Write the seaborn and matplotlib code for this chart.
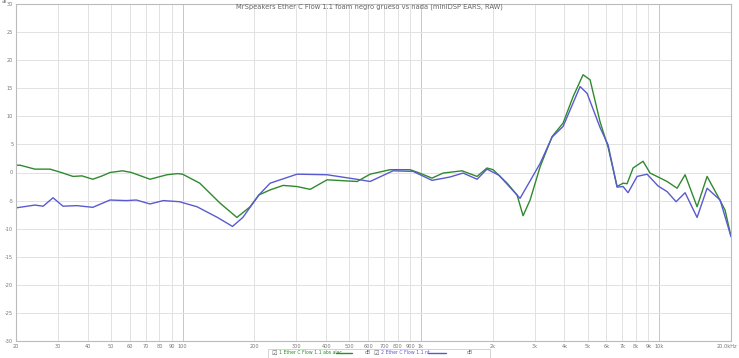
import numpy as np
import pandas as pd
import matplotlib
matplotlib.use("Agg")
import matplotlib.pyplot as plt
import matplotlib.transforms as mtransforms
import seaborn as sns
from matplotlib.lines import Line2D
from matplotlib.patches import Rectangle

title = "MrSpeakers Ether C Flow 1.1 foam negro grueso vs nada (miniDSP EARS, RAW)"
series_names = ["1 Ether C Flow 1.1 abs alac", "2 Ether C Flow 1.1 nt"]

green_freq = [20, 20.8, 24, 27.8, 31.5, 34.7, 37.8, 42, 46, 49.6, 56, 61, 73, 86, 95, 100,
              118, 144, 169, 192, 209, 233, 264, 302, 343, 404, 540, 612, 742, 900, 973,
              1113, 1239, 1488, 1720, 1893, 2008, 2299, 2532, 2683, 2871, 3162, 3551, 3949,
              4350, 4790, 5126, 5646, 6101, 6653, 7050, 7328, 7766, 8553, 9152, 9887, 10785,
              11881, 12836, 14412, 15876, 17652, 18890, 20000]
green_db = [1.3, 1.3, 0.6, 0.6, -0.1, -0.7, -0.6, -1.2, -0.6, 0.0, 0.3, 0.0, -1.2, -0.4, -0.2, -0.3,
            -1.9, -5.5, -8.0, -6.1, -4.0, -3.1, -2.3, -2.5, -3.0, -1.3, -1.6, -0.3, 0.5, 0.5, 0.0,
            -1.0, -0.1, 0.3, -0.7, 0.8, 0.5, -1.9, -4.0, -7.7, -4.9, 1.0, 6.4, 8.8,
            13.5, 17.4, 16.5, 9.0, 4.5, -2.5, -1.9, -2.0, 0.8, 2.0, -0.1, -0.8, -1.6,
            -2.8, -0.4, -6.1, -0.7, -4.3, -6.7, -11.4]

blue_freq = [20, 24, 26, 28.6, 31.5, 36, 42, 49.6, 58, 64, 73, 83, 97, 115, 140, 162, 179,
             209, 233, 302, 404, 556, 612, 764, 927, 1113, 1325, 1502, 1720, 1893, 2127,
             2606, 3162, 3551, 3949, 4654, 4979, 5646, 6101, 6653, 7050, 7399, 8073, 8891,
             9887, 10785, 11767, 12836, 14412, 15876, 18000, 20000]
blue_db = [-6.3, -5.8, -6.0, -4.5, -6.0, -5.9, -6.2, -4.9, -5.0, -4.9, -5.6, -5.0, -5.2, -6.1, -8.0, -9.6, -8.0,
           -4.0, -1.9, -0.3, -0.4, -1.3, -1.6, 0.3, 0.2, -1.4, -0.8, -0.1, -1.2, 0.6, -0.5,
           -4.6, 1.6, 6.3, 8.2, 15.3, 14.1, 8.0, 4.9, -2.6, -2.5, -3.6, -0.7, -0.3,
           -2.4, -3.4, -5.2, -3.6, -8.0, -2.8, -4.9, -11.4]

x_ticks = [20, 30, 40, 50, 60, 70, 80, 90, 100, 200, 300, 400, 500, 600, 700, 800, 900,
           1000, 2000, 3000, 4000, 5000, 6000, 7000, 8000, 9000, 10000, 20000]
x_tick_labels = ["20", "30", "40", "50", "60", "70", "80", "90", "100", "200", "300", "400",
                 "500", "600", "700", "800", "900", "1k", "2k", "3k", "4k", "5k", "6k", "7k",
                 "8k", "9k", "10k", "20.0kHz"]
y_ticks = [30, 25, 20, 15, 10, 5, 0, -5, -10, -15, -20, -25, -30]

GREEN = "#2f8a2f"
BLUE = "#5a5ad0"

df = pd.concat([
    pd.DataFrame({"freq": green_freq, "db": green_db, "series": series_names[0]}),
    pd.DataFrame({"freq": blue_freq, "db": blue_db, "series": series_names[1]}),
])

sns.set_theme(style="white")
plt.rcParams['font.family'] = ['DejaVu Sans']

W, H = 739, 358
fig = plt.figure(figsize=(W / 100, H / 100), dpi=100)
ax = fig.add_axes([16 / W, 17 / H, (731 - 16) / W, (341 - 4) / H])

sns.lineplot(data=df, x="freq", y="db", hue="series", palette=[GREEN, BLUE],
             ax=ax, legend=False, linewidth=1.0, sort=False, estimator=None)

ax.set_xscale("log")
ax.set_xlim(20, 20000)
ax.set_ylim(-30, 30)
ax.set_xticks(x_ticks)
ax.set_xticklabels(x_tick_labels)
ax.xaxis.set_minor_locator(matplotlib.ticker.NullLocator())
ax.set_yticks(y_ticks)
ax.set_yticklabels([str(v) for v in y_ticks])
ax.tick_params(axis="both", labelsize=3.6, colors="#777777", length=0, pad=2)
ax.set_xlabel("")
ax.set_ylabel("")

# last x label right-aligned at the edge
last = ax.get_xticklabels()[-1]
last.set_horizontalalignment("right")
last.set_transform(last.get_transform() + mtransforms.ScaledTranslation(6 / 100, 0, fig.dpi_scale_trans))

for v in x_ticks:
    c = "#c8c8c8" if v in (100, 1000, 10000) else "#e2e2e2"
    ax.axvline(v, color=c, linewidth=0.7, zorder=0)
for v in y_ticks:
    ax.axhline(v, color="#e2e2e2", linewidth=0.7, zorder=0)

for s in ax.spines.values():
    s.set_color("#bbbbbb")
    s.set_linewidth(0.8)

fig.text(0.5, 1 - 7 / H, title, ha="center", va="center", fontsize=4.9, color="#666666")
fig.text(7.5 / W, 1 - 0.2 / H, "dB", ha="right", va="top", fontsize=3.0, color="#777777")

# legend box at bottom
ly = 1 - 353 / H
fig.add_artist(Rectangle((268 / W, 1 - 358 / H), (490 - 268) / W, 9 / H,
                         transform=fig.transFigure, fill=False, edgecolor="#cccccc", linewidth=0.6))
fig.text(271 / W, ly, "\u2611", fontsize=4.5, color="#666666", va="center", ha="left")
fig.text(279 / W, ly, series_names[0], fontsize=3.3, color=GREEN, va="center", ha="left")
fig.add_artist(Line2D([336 / W, 352 / W], [ly, ly], transform=fig.transFigure, color=GREEN, linewidth=1.0))
fig.text(368 / W, ly, "dB", fontsize=3.3, color="#666666", va="center", ha="center")
fig.text(373 / W, ly, "\u2611", fontsize=4.5, color="#666666", va="center", ha="left")
fig.text(381 / W, ly, series_names[1], fontsize=3.3, color=BLUE, va="center", ha="left")
fig.add_artist(Line2D([428 / W, 446 / W], [ly, ly], transform=fig.transFigure, color=BLUE, linewidth=1.0))
fig.text(470 / W, ly, "dB", fontsize=3.3, color="#666666", va="center", ha="center")

fig.savefig("out.png", dpi=100)
